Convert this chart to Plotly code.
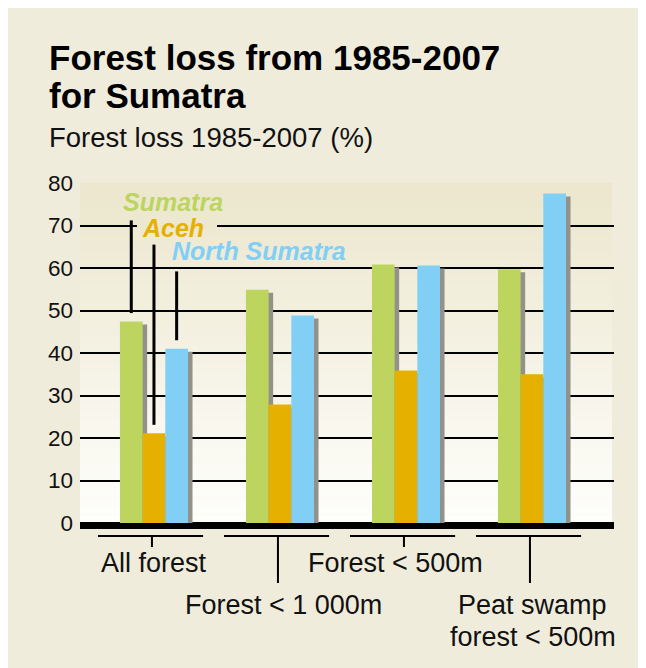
import plotly.graph_objects as go

# ---------------- data ----------------
categories = ["All forest", "Forest < 1 000m", "Forest < 500m", "Peat swamp<br>forest < 500m"]
series_names = ["Sumatra", "Aceh", "North Sumatra"]
sumatra = [47.4, 54.9, 60.8, 59.7]
aceh = [21.1, 27.9, 35.9, 35.0]
north_sumatra = [41.0, 48.8, 60.6, 77.5]
y_ticks = [0, 10, 20, 30, 40, 50, 60, 70, 80]

title_lines = ["Forest loss from 1985-2007", "for Sumatra"]
subtitle = "Forest loss 1985-2007 (%)"

# ---------------- style ----------------
FONT = "Liberation Sans, Arial, Helvetica, sans-serif"
CREAM = "#f0ecdc"
colors = ["#bdd55f", "#e6b000", "#82cff5"]
SHADOW = "#93928a"

OFF = 8  # page body margin: figure starts at (8, 8) in the screenshot
FIG_W, FIG_H = 638, 660
L, R, T, B = 72, 32, 174, 137
PW = FIG_W - L - R
PH = FIG_H - T - B
X_RANGE = [-0.587, 3.651]
Y_RANGE = [-1.882, 80.235]

def px_x(px):
    return (px - OFF - L) / PW

def px_y(py):
    return (FIG_H - B - (py - OFF)) / PH

def dx_paper(x):
    return (x - X_RANGE[0]) / (X_RANGE[1] - X_RANGE[0])

bar_w = 0.18
offsets = [-0.27, -0.09, 0.09]
shadow_dx = 0.036
shadow_dy = -0.7

xs = list(range(len(categories)))
values = [sumatra, aceh, north_sumatra]

fig = go.Figure()

# shadows first
for vals, off in zip(values, offsets):
    fig.add_trace(go.Bar(
        x=xs, y=vals, base=shadow_dy, width=bar_w, offset=off + shadow_dx,
        marker=dict(color=SHADOW, line=dict(width=0)),
        showlegend=False, hoverinfo="skip"))

for name, vals, off, col in zip(series_names, values, offsets, colors):
    fig.add_trace(go.Bar(
        x=xs, y=vals, width=bar_w, offset=off, name=name,
        marker=dict(color=col, line=dict(width=0)),
        showlegend=False))

shapes = []
# plot-area gradient
top_c = (235, 230, 204)
bot_c = (254, 254, 252)
n_bands = 40
for k in range(n_bands):
    y0 = 80 * k / n_bands
    y1 = 80 * (k + 1) / n_bands
    t = (k + 0.5) / n_bands
    c = tuple(round(b + (a - b) * t) for a, b in zip(top_c, bot_c))
    shapes.append(dict(type="rect", xref="paper", yref="y",
                       x0=0, x1=px_x(612), y0=y0, y1=y1 + 0.05,
                       fillcolor="rgb(%d,%d,%d)" % c, line=dict(width=0), layer="below"))

# gap in the 70 gridline behind the "Aceh" label
shapes.append(dict(type="rect", xref="paper", yref="y",
                   x0=px_x(137), x1=px_x(217), y0=69.2, y1=70.8,
                   fillcolor="#ece7cf", line=dict(width=0), layer="above"))

# thick baseline
shapes.append(dict(type="line", xref="paper", yref="y", x0=0, x1=1, y0=-0.7, y1=-0.7,
                   line=dict(color="black", width=6), layer="above"))

# leader lines from series labels to first group bars
leader_tops = [71.2, 65.5, 59.2]
for vals, off, top in zip(values, offsets, leader_tops):
    xc = xs[0] + off + bar_w / 2
    shapes.append(dict(type="line", xref="x", yref="y", x0=xc, x1=xc,
                       y0=vals[0] + 2.0, y1=top,
                       line=dict(color="black", width=3), layer="above"))

# category brackets
levels = [0, 1, 0, 1]
br_half = 0.417
br_shift = -0.027
tick_shift = -0.016
br_y = 536
tick_end = [547, 583]
for i, lev in zip(xs, levels):
    shapes.append(dict(type="line", xref="paper", yref="paper",
                       x0=dx_paper(i + br_shift - br_half), x1=dx_paper(i + br_shift + br_half),
                       y0=px_y(br_y), y1=px_y(br_y),
                       line=dict(color="black", width=2)))
    shapes.append(dict(type="line", xref="paper", yref="paper",
                       x0=dx_paper(i + tick_shift), x1=dx_paper(i + tick_shift),
                       y0=px_y(br_y), y1=px_y(tick_end[lev]),
                       line=dict(color="black", width=2)))

annotations = []
# title
title_y = [57, 95.5]
for line, yy in zip(title_lines, title_y):
    annotations.append(dict(text="<b>%s</b>" % line, xref="paper", yref="paper",
                            x=px_x(47), y=px_y(yy), xanchor="left", yanchor="middle",
                            showarrow=False, font=dict(family=FONT, size=35, color="#000")))
annotations.append(dict(text=subtitle, xref="paper", yref="paper",
                        x=px_x(47), y=px_y(137), xanchor="left", yanchor="middle",
                        showarrow=False, font=dict(family=FONT, size=27.5, color="#111")))

# category labels
label_dx = [0.004, 0.032, -0.087, 0.008]
row_y = [562.5, 605]
line_gap = 32
for i, cat, lev, ddx in zip(xs, categories, levels, label_dx):
    for j, part in enumerate(cat.split("<br>")):
        annotations.append(dict(text=part, xref="paper", yref="paper",
                                x=dx_paper(i + ddx), y=px_y(row_y[lev] + j * line_gap),
                                xanchor="center", yanchor="middle", showarrow=False,
                                font=dict(family=FONT, size=27, color="#111")))

# series labels (inline legend)
label_pos = [(0.151, 75.5), (0.151, 69.4), (0.833, 63.9)]
for name, col, (lx, ly) in zip(series_names, colors, label_pos):
    annotations.append(dict(text="<b><i>%s</i></b>" % name, xref="x", yref="y", x=lx, y=ly,
                            xanchor="center", yanchor="middle", showarrow=False,
                            font=dict(family=FONT, size=25, color=col)))

fig.update_layout(
    width=FIG_W, height=FIG_H,
    margin=dict(l=L, r=R, t=T, b=B, pad=0),
    paper_bgcolor=CREAM,
    plot_bgcolor=CREAM,
    barmode="overlay",
    shapes=shapes,
    annotations=annotations,
    xaxis=dict(range=X_RANGE, showgrid=False, zeroline=False, showticklabels=False,
               ticks="", showline=False, fixedrange=True),
    yaxis=dict(range=Y_RANGE, tickvals=y_ticks, showgrid=True, gridcolor="#000000",
               gridwidth=1.5, zeroline=False, showline=False, ticks="",
               ticklabelstandoff=6,
               tickfont=dict(family=FONT, size=22.5, color="#111"), fixedrange=True),
    font=dict(family=FONT),
)

fig.write_html("out.html")
